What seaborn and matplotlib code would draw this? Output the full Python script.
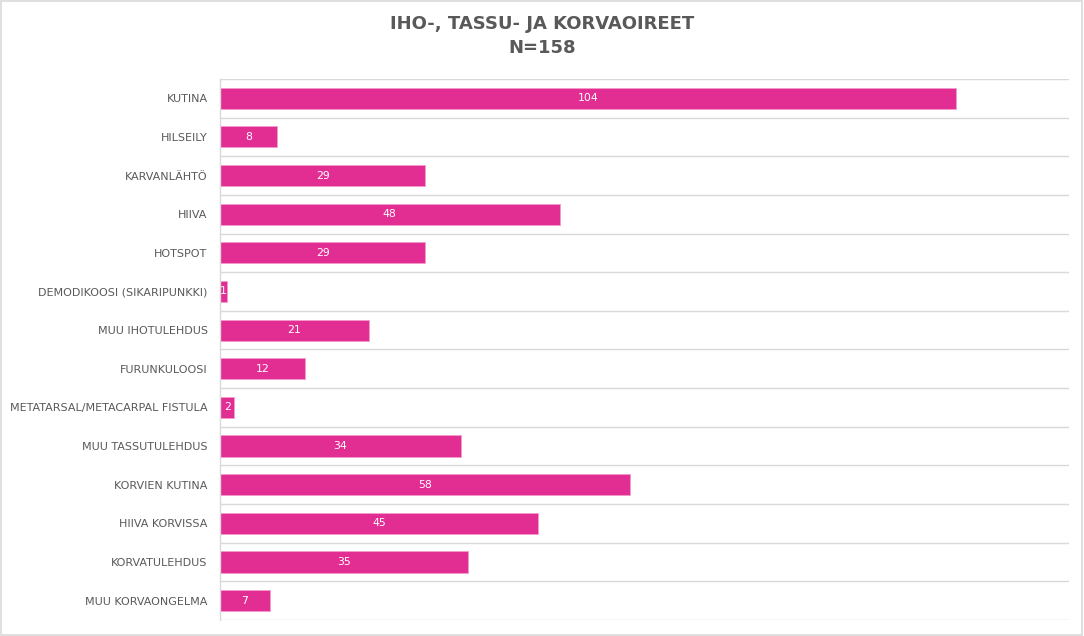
import pandas as pd
import seaborn as sns
import matplotlib.pyplot as plt
from matplotlib.patches import Rectangle

# Chart data
categories = [
    'KUTINA', 'HILSEILY', 'KARVANLÄHTÖ', 'HIIVA', 'HOTSPOT',
    'DEMODIKOOSI (SIKARIPUNKKI)', 'MUU IHOTULEHDUS', 'FURUNKULOOSI',
    'METATARSAL/METACARPAL FISTULA', 'MUU TASSUTULEHDUS', 'KORVIEN KUTINA',
    'HIIVA KORVISSA', 'KORVATULEHDUS', 'MUU KORVAONGELMA',
]
counts = [104, 8, 29, 48, 29, 1, 21, 12, 2, 34, 58, 45, 35, 7]
title_lines = ['IHO-, TASSU- JA KORVAOIREET', 'N=158']

df = pd.DataFrame({'Oire': categories, 'Määrä': counts})

bar_color = '#E22D93'
grid_color = '#D9D9D9'
text_color = '#595959'

sns.set_style('white')
plt.rcParams['font.family'] = ['DejaVu Sans']

fig = plt.figure(figsize=(10.84, 6.36), dpi=100)
ax = fig.add_axes([0.203, 0.025, 0.783, 0.851])

sns.barplot(data=df, x='Määrä', y='Oire', orient='h', color=bar_color,
            saturation=1, width=0.55, edgecolor='#F39BCB', linewidth=0.6, ax=ax)

ax.bar_label(ax.containers[0], label_type='center', color='white', fontsize=7.8)

ax.set_xlim(0, 120)
ax.set_ylim(len(categories) - 0.5, -0.5)
ax.set_xticks([])
ax.set_yticks(range(len(categories)))
ax.set_yticks([i - 0.5 for i in range(len(categories) + 1)], minor=True)
ax.set_yticklabels(categories, fontsize=8, color=text_color)
ax.tick_params(axis='y', which='both', length=0, pad=9)
ax.grid(axis='y', which='minor', color=grid_color, linewidth=1)
ax.grid(axis='y', which='major', visible=False)
ax.set_axisbelow(True)
ax.set_xlabel('')
ax.set_ylabel('')

for side in ['top', 'right', 'bottom']:
    ax.spines[side].set_visible(False)
ax.spines['left'].set_color(grid_color)
ax.spines['left'].set_linewidth(1)

fig.text(0.5, 0.962, title_lines[0], ha='center', va='center',
         fontsize=13, fontweight='bold', color=text_color)
fig.text(0.5, 0.924, title_lines[1], ha='center', va='center',
         fontsize=13, fontweight='bold', color=text_color)

# outer chart border
fig.patches.append(Rectangle((0.001, 0.002), 0.997, 0.996, transform=fig.transFigure,
                             fill=False, edgecolor=grid_color, linewidth=1.2))

fig.savefig('out.png', dpi=100)
